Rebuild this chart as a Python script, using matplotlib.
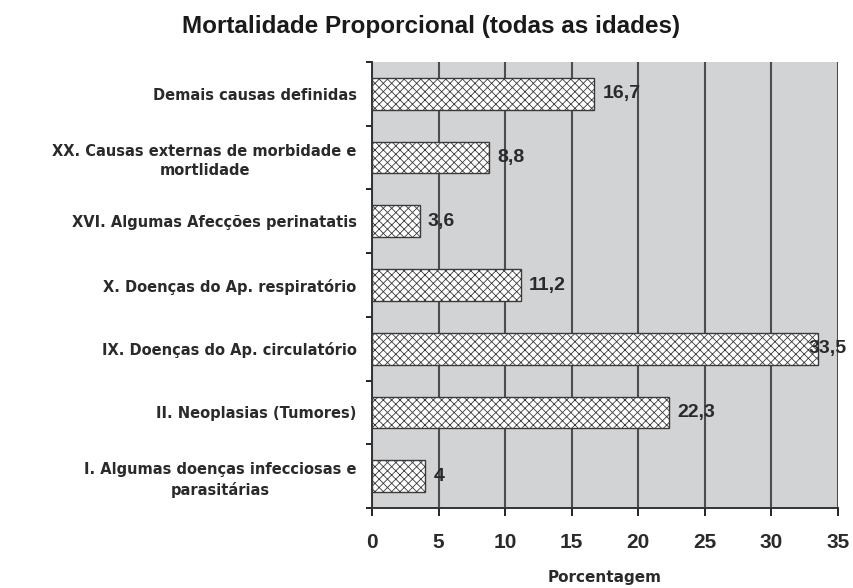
import matplotlib.pyplot as plt
import numpy as np

categories = [
    "Demais causas definidas",
    "XX. Causas externas de morbidade e\nmortlidade",
    "XVI. Algumas Afecções perinatatis",
    "X. Doenças do Ap. respiratório",
    "IX. Doenças do Ap. circulatório",
    "II. Neoplasias (Tumores)",
    "I. Algumas doenças infecciosas e\nparasitárias",
]
values = [16.7, 8.8, 3.6, 11.2, 33.5, 22.3, 4]
value_labels = ["16,7", "8,8", "3,6", "11,2", "33,5", "22,3", "4"]
xticks = [0, 5, 10, 15, 20, 25, 30, 35]

plt.rcParams["font.family"] = ["Liberation Sans", "DejaVu Sans"]
plt.rcParams["hatch.color"] = "#5a5a5a"
plt.rcParams["hatch.linewidth"] = 0.6

fig = plt.figure(figsize=(8.54, 5.88), dpi=100)
ax = fig.add_axes([0.4356, 0.136, 0.5457, 0.7586])
ax.set_facecolor("#d2d3d5")

y = np.arange(len(categories))
ax.barh(y, values, height=0.5, color="white", edgecolor="#3a3a3a",
        hatch="xxxx", linewidth=1.0, zorder=3)

for yi, v, lab in zip(y, values, value_labels):
    xpos = min(v + 0.6, 32.8)
    ax.text(xpos, yi, lab, ha="left", va="center", fontsize=14,
            fontweight="bold", color="#2a2a2a", zorder=4)

ax.set_xlim(0, 35)
ax.set_ylim(len(categories) - 0.5, -0.5)
ax.set_xticks(xticks)
ax.set_xticklabels([str(t) for t in xticks], fontsize=15, fontweight="bold",
                   color="#2a2a2a")
ax.tick_params(axis="x", length=6, width=1.2, pad=12, direction="out")
ax.grid(axis="x", color="#4d4d4d", linewidth=1.5, zorder=1)

ax.set_yticks(y)
ax.set_yticklabels(categories, fontsize=10.5, fontweight="bold",
                   color="#2a2a2a", linespacing=1.35,
                   family=["DejaVu Sans"])
for t in ax.get_yticklabels():
    t.set_multialignment("center")
ax.tick_params(axis="y", length=0, pad=11)
ax.set_yticks(np.arange(-0.5, len(categories), 1), minor=True)
ax.tick_params(axis="y", which="minor", length=4, width=1.2, direction="out")

for s in ["top", "right"]:
    ax.spines[s].set_visible(False)
for s in ["left", "bottom"]:
    ax.spines[s].set_linewidth(1.4)
    ax.spines[s].set_color("#333333")

ax.set_xlabel("Porcentagem", fontsize=11, fontweight="bold", labelpad=13,
              color="#2a2a2a", family=["DejaVu Sans"])
fig.suptitle("Mortalidade Proporcional (todas as idades)", fontsize=17.5,
             fontweight="bold", x=0.505, y=0.975, color="#1a1a1a")

fig.savefig("out.png", dpi=100, facecolor="white")
